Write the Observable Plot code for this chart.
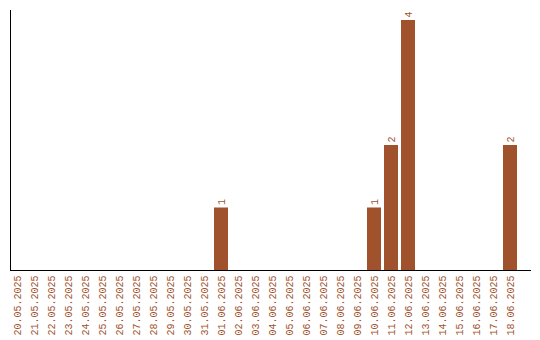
<!DOCTYPE html>
<html>
<head>
<meta charset="utf-8">
<script src="https://cdn.jsdelivr.net/npm/d3@7"></script>
<script src="https://cdn.jsdelivr.net/npm/@observablehq/plot@0.6"></script>
<style>
  html, body { margin: 0; padding: 0; background: #fff; }
</style>
</head>
<body>
<div id="chart"></div>
<script>
const dates = [
  "20.05.2025","21.05.2025","22.05.2025","23.05.2025","24.05.2025","25.05.2025",
  "26.05.2025","27.05.2025","28.05.2025","29.05.2025","30.05.2025","31.05.2025",
  "01.06.2025","02.06.2025","03.06.2025","04.06.2025","05.06.2025","06.06.2025",
  "07.06.2025","08.06.2025","09.06.2025","10.06.2025","11.06.2025","12.06.2025",
  "13.06.2025","14.06.2025","15.06.2025","16.06.2025","17.06.2025","18.06.2025"
];
const counts = [0,0,0,0,0,0,0,0,0,0,0,0,1,0,0,0,0,0,0,0,0,1,2,4,0,0,0,0,0,2];

const data = dates.map((d, i) => ({date: d, value: counts[i]}));
const labeled = data.filter(d => d.value > 0);
const color = "#A0522D";

const chart = Plot.plot({
  width: 540,
  height: 340,
  marginLeft: 10,
  marginRight: 23,
  marginTop: 10,
  marginBottom: 70,
  style: {fontFamily: "'Liberation Mono', 'Courier New', monospace", fontSize: "10px", background: "#fff"},
  x: {domain: dates, paddingInner: 0.18, paddingOuter: 0, axis: null},
  y: {domain: [0, 4.16], axis: null},
  marks: [
    Plot.barY(data, {x: "date", y: "value", fill: color}),
    Plot.text(labeled, {x: "date", y: "value", text: d => String(d.value), rotate: -90,
      textAnchor: "start", lineAnchor: "middle", dy: -3, fill: color, fontSize: 10}),
    Plot.axisX({tickRotate: -90, tickSize: 0, tickPadding: 5, fill: color, fontSize: 10, label: null}),
    Plot.ruleY([0], {stroke: "#000", insetRight: -14}),
    Plot.frame({anchor: "left", stroke: "#000"})
  ]
});
document.getElementById("chart").appendChild(chart);
</script>
</body>
</html>
